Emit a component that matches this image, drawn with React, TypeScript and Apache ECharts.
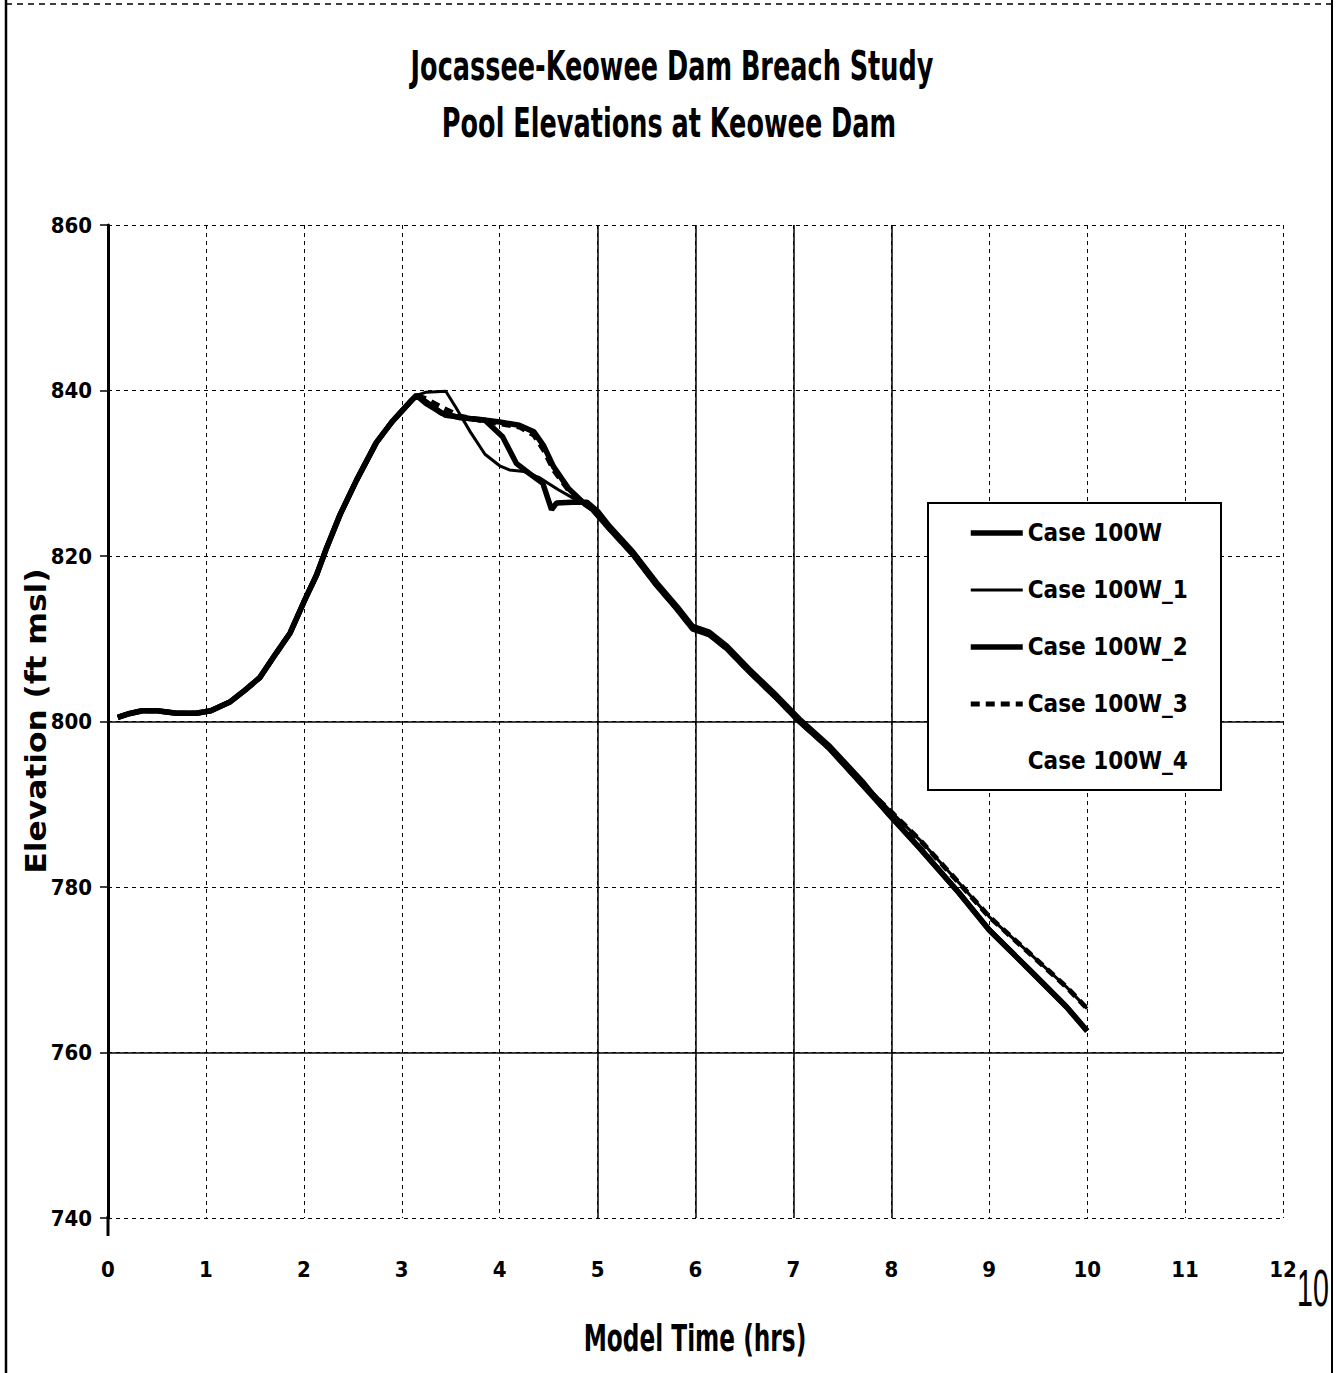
import React, { useEffect, useRef } from "react";
import * as echarts from "echarts";

const COND = "'DejaVu Sans Condensed', 'Liberation Sans', sans-serif";

const chartTitle = ["Jocassee-Keowee Dam Breach Study", "Pool Elevations at Keowee Dam"];
const xName = "Model Time (hrs)";
const yName = "Elevation (ft msl)";
const pageNumber = "10";
const seriesNames = ["Case 100W", "Case 100W_1", "Case 100W_2", "Case 100W_3", "Case 100W_4"];
const xMin = 0, xMax = 12, xStep = 1;
const yMin = 740, yMax = 860, yStep = 20;
const solidGridX = [5, 6, 7, 8];
const solidGridY = [800, 760];

// Shared rising limb (all cases coincide)
const riseTime = [0.1, 0.2, 0.35, 0.5, 0.7, 0.9, 1.05, 1.25, 1.4, 1.55, 1.72, 1.86, 2.01, 2.13, 2.23, 2.37, 2.54, 2.74, 2.9, 3.0, 3.1, 3.15];
const riseElev = [800.5, 800.9, 801.3, 801.3, 801.0, 801.0, 801.3, 802.4, 803.8, 805.3, 808.3, 810.7, 814.7, 817.7, 820.9, 825.0, 829.2, 833.7, 836.2, 837.5, 838.8, 839.4];

// Post-peak, case-specific
const peakTimeA = [3.25, 3.4, 3.6, 3.8, 4.0, 4.2, 4.35, 4.45, 4.55, 4.7, 4.85, 4.95];
const peakElevA = [838.6, 837.3, 836.7, 836.5, 836.2, 835.8, 835.0, 833.3, 830.8, 828.2, 826.5, 825.6];
const peakTimeB = [3.25, 3.45, 3.55, 3.7, 3.85, 4.0, 4.1, 4.25, 4.4, 4.6, 4.75, 4.95];
const peakElevB = [839.8, 839.9, 838.0, 835.0, 832.3, 830.9, 830.4, 830.2, 829.5, 828.0, 827.0, 825.6];
const peakTimeC = [3.25, 3.45, 3.7, 3.85, 4.03, 4.17, 4.3, 4.44, 4.53, 4.58, 4.74, 4.89, 5.0];
const peakElevC = [838.4, 837.0, 836.6, 836.4, 834.4, 831.2, 830.0, 828.8, 825.6, 826.4, 826.5, 826.5, 825.4];
const peakTimeD = [3.25, 3.4, 3.6, 3.8, 4.0, 4.2, 4.35, 4.45, 4.55, 4.7, 4.85, 4.95];
const peakElevD = [839.0, 838.0, 836.9, 836.4, 836.0, 835.6, 834.6, 832.8, 830.4, 828.0, 826.4, 825.6];

// Falling limb (nearly coincident)
const fallTime = [5.12, 5.36, 5.6, 5.81, 5.97, 6.14, 6.32, 6.55, 6.83, 7.06, 7.37, 7.7];
const fallElevHigh = [823.6, 820.5, 816.8, 813.9, 811.5, 810.8, 809.1, 806.3, 803.1, 800.3, 797.0, 792.8];
const fallElevLow = [823.3, 820.2, 816.5, 813.6, 811.2, 810.5, 808.8, 806.0, 802.8, 800.0, 796.7, 792.4];

// Tail: two diverging groups
const endTime = [7.98, 8.29, 8.69, 9.0, 9.41, 9.79, 10.0];
const endElevUpper = [789.3, 785.7, 780.5, 776.4, 772.0, 767.9, 765.3];
const endElevLower = [788.7, 784.7, 779.3, 774.8, 770.0, 765.5, 762.6];

const zip = (t: number[], v: number[]) => t.map((x, i) => [x, v[i]]);

function build(pt: number[], pv: number[], fv: number[], ev: number[]) {
  return [...zip(riseTime, riseElev), ...zip(pt, pv), ...zip(fallTime, fv), ...zip(endTime, ev)];
}

export default function App() {
  const ref = useRef<HTMLDivElement>(null);
  useEffect(() => {
    if (!ref.current) return;
    const chart = echarts.init(ref.current, null, { renderer: "svg" });
    const dashed = { color: "#000", width: 1, type: [4, 4] as any };
    const labelFont = { fontFamily: COND, fontWeight: "bold" as const, fontSize: 22, color: "#000" };
    const base = { type: "line" as const, symbol: "none", showSymbol: false, smooth: false, silent: true };
    const boldText = (text: string, x: number, y: number, size: number, sx: number, extra: any = {}) => ({
      type: "text", z: 5, x, y, scaleX: sx, ...extra,
      style: { text, fontFamily: COND, fontWeight: "bold", fontSize: size, fill: "#000", align: "center", verticalAlign: "middle" },
    });
    const option: any = {
      animation: false,
      backgroundColor: "#fff",
      color: ["#000", "#000", "#000", "#000", "#000"],
      grid: { left: 108, right: 54, top: 225, bottom: 155 },
      xAxis: {
        type: "value", min: xMin, max: xMax, interval: xStep,
        axisLine: { show: false }, axisTick: { show: false },
        axisLabel: { ...labelFont, margin: 40 },
        splitLine: { show: true, lineStyle: dashed },
      },
      yAxis: {
        type: "value", min: yMin, max: yMax, interval: yStep,
        axisLine: { show: true, lineStyle: { color: "#000", width: 3 } },
        axisTick: { show: true, length: 8, lineStyle: { color: "#000", width: 1.5 } },
        axisLabel: { ...labelFont, margin: 16 },
        splitLine: { show: true, lineStyle: dashed },
      },
      legend: {
        orient: "vertical", left: 968, top: 516, padding: 0, itemWidth: 52, itemHeight: 14, itemGap: 23,
        selectedMode: false, z: 6,
        itemStyle: { opacity: 0 },
        lineStyle: { width: "inherit", type: "inherit", opacity: "inherit" },
        textStyle: { fontFamily: COND, fontWeight: "bold", fontSize: 24, color: "#000", lineHeight: 34 },
        data: seriesNames,
      },
      graphic: [
        { type: "rect", z: 5, shape: { x: 928, y: 503, width: 293, height: 287 }, style: { fill: "#fff", stroke: "#000", lineWidth: 2 } },
        { type: "line", z: 5, shape: { x1: 6, y1: 0, x2: 6, y2: 1373 }, style: { stroke: "#000", lineWidth: 2.5 } },
        { type: "line", z: 5, shape: { x1: 1332, y1: 0, x2: 1332, y2: 1373 }, style: { stroke: "#000", lineWidth: 2 } },
        { type: "line", z: 5, shape: { x1: 6, y1: 4, x2: 1332, y2: 4 }, style: { stroke: "#000", lineWidth: 1.5, lineDash: [6, 5] } },
        { type: "line", z: 5, shape: { x1: 108, y1: 1216, x2: 108, y2: 1236 }, style: { stroke: "#000", lineWidth: 3 } },
        boldText(chartTitle[0], 672, 66, 40, 0.71),
        boldText(chartTitle[1], 669, 123, 40, 0.71),
        boldText(xName, 695, 1338, 38, 0.68),
        boldText(yName, 36, 721, 29, 1.2, { rotation: Math.PI / 2 }),
        { type: "text", z: 5, x: 1297, y: 1262, scaleX: 0.55, style: { text: pageNumber, fontFamily: "'Liberation Sans', sans-serif", fontSize: 52, fill: "#000" } },
      ],
      series: [
        {
          ...base, name: seriesNames[0], z: 3,
          data: build(peakTimeA, peakElevA, fallElevLow, endElevLower),
          lineStyle: { color: "#000", width: 5.5 },
          markLine: {
            silent: true, symbol: ["none", "none"], label: { show: false }, z: 1,
            lineStyle: { color: "#000", width: 1.5, type: "solid", opacity: 1 },
            data: [...solidGridX.map((v) => ({ xAxis: v })), ...solidGridY.map((v) => ({ yAxis: v }))],
          },
        },
        {
          ...base, name: seriesNames[1], z: 3,
          data: build(peakTimeB, peakElevB, fallElevHigh, endElevUpper),
          lineStyle: { color: "#000", width: 3 },
        },
        {
          ...base, name: seriesNames[2], z: 3,
          data: build(peakTimeC, peakElevC, fallElevHigh, endElevLower),
          lineStyle: { color: "#000", width: 5.5 },
        },
        {
          ...base, name: seriesNames[3], z: 3,
          data: build(peakTimeD, peakElevD, fallElevLow, endElevUpper),
          lineStyle: { color: "#000", width: 5, type: [9, 6] },
        },
        {
          ...base, name: seriesNames[4], z: 3,
          data: build(peakTimeA, peakElevA, fallElevLow, endElevLower),
          lineStyle: { color: "#000", width: 4, opacity: 0 },
        },
      ],
    };
    chart.setOption(option);
    return () => chart.dispose();
  }, []);
  return <div ref={ref} style={{ position: "absolute", left: 0, top: 0, width: 1337, height: 1373 }} />;
}
